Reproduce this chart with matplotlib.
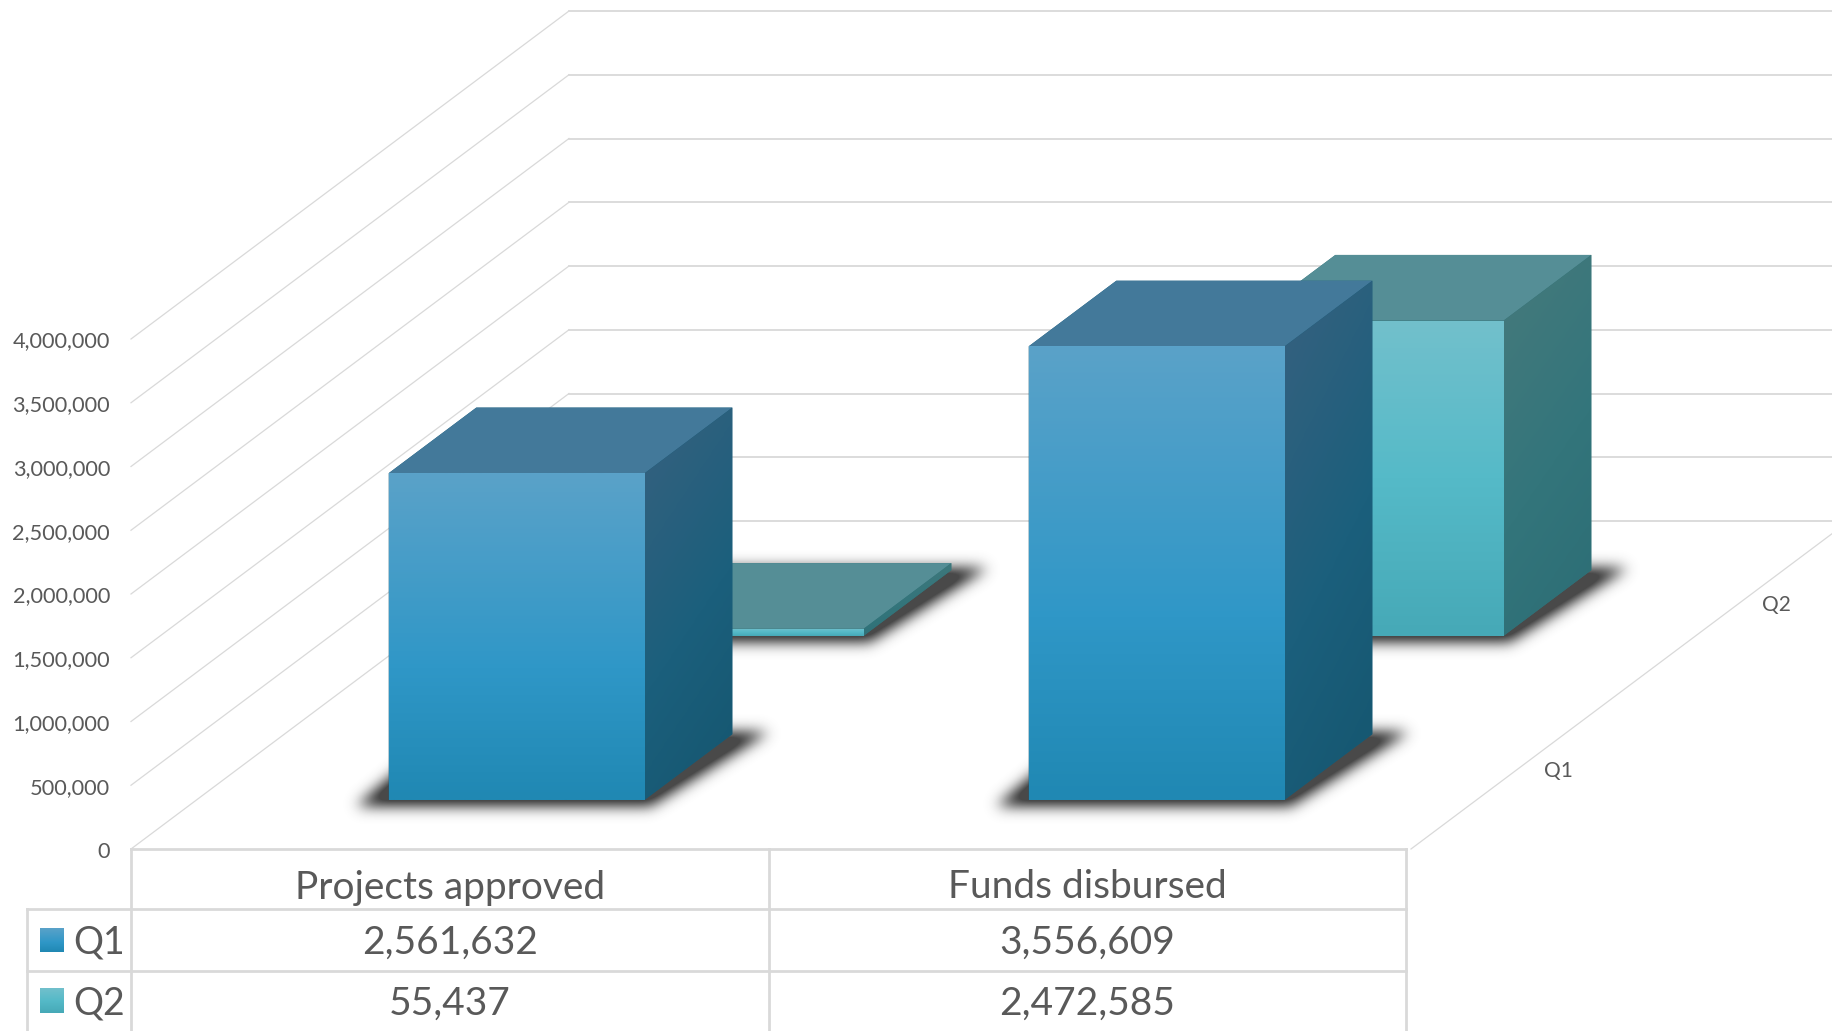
import numpy as np
import matplotlib
matplotlib.use("Agg")
import matplotlib.pyplot as plt
from matplotlib.colors import LinearSegmentedColormap
from matplotlib.path import Path
from matplotlib.patches import Polygon

plt.rcParams['font.family'] = ['Lato', 'DejaVu Sans']

categories = ["Projects approved", "Funds disbursed"]
series = ["Q1", "Q2"]
q1_values = [2561632, 3556609]
q2_values = [55437, 2472585]
value_ticks = [0, 500000, 1000000, 1500000, 2000000, 2500000, 3000000, 3500000, 4000000]

W, H = 1832, 1031
TEXT = "#595959"
GRID = "#d9d9d9"

# oblique projection: category units, depth units (0..1), value -> pixels
X0, Y0 = 131, 849
CAT_W = 640
DEPTH_DX, DEPTH_DY = 438, 328
PX_PER_VALUE = 510 / 4000000
BAR_W = 0.4
BAR_DEPTH = 0.2
BAR_START = 0.3


def project(cat, depth, value=0):
    return (X0 + cat * CAT_W + depth * DEPTH_DX,
            Y0 - depth * DEPTH_DY - value * PX_PER_VALUE)


ramps = {
    "Q1": dict(
        front=LinearSegmentedColormap.from_list("f1", [(0, "#5aa2c9"), (0.6, "#2f97c7"), (1, "#2088b3")]),
        side=LinearSegmentedColormap.from_list("s1", [(0, "#37617f"), (0.55, "#1b5f7c"), (1, "#15566f")]),
        top="#43799a"),
    "Q2": dict(
        front=LinearSegmentedColormap.from_list("f2", [(0, "#72c0cc"), (0.5, "#55bac8"), (1, "#46a9b7")]),
        side=LinearSegmentedColormap.from_list("s2", [(0, "#467a7c"), (0.55, "#33757b"), (1, "#2c6d75")]),
        top="#558e96"),
}

fig = plt.figure(figsize=(W / 100, H / 100), dpi=100)
ax = fig.add_axes([0, 0, 1, 1])
ax.axis("off")


def gradient_poly(pts, cmap, zorder, diagonal=0.0):
    pts = np.array(pts)
    xmin, ymin = pts.min(axis=0)
    xmax, ymax = pts.max(axis=0)
    yy, xx = np.mgrid[0:1:200j, 0:1:60j]
    t = (1 - diagonal) * yy + diagonal * xx
    im = ax.imshow(t, cmap=cmap, vmin=0, vmax=1, extent=(xmin, xmax, ymax, ymin),
                   aspect="auto", zorder=zorder, interpolation="bilinear")
    patch = Polygon(pts, closed=True, transform=ax.transData, fc="none", ec="none")
    ax.add_patch(patch)
    im.set_clip_path(patch)


def blur(a, sigma):
    r = int(3 * sigma)
    k = np.exp(-0.5 * (np.arange(-r, r + 1) / sigma) ** 2)
    k /= k.sum()
    a = np.apply_along_axis(lambda v: np.convolve(v, k, mode="same"), 0, a)
    return np.apply_along_axis(lambda v: np.convolve(v, k, mode="same"), 1, a)


# walls
for v in value_ticks:
    fx, fy = project(0, 0, v)
    bx, by = project(0, 1, v)
    ax.plot([fx, bx], [fy, by], color=GRID, lw=0.9, zorder=1)
    ax.plot([bx, W], [by, by], color=GRID, lw=1.3, zorder=1)
    ax.text(110, fy + 2.5, f"{v:,}", ha="right", va="center", fontsize=15.7, color=TEXT)
fx, fy = project(2, 0)
bx, by = project(2, 1)
ax.plot([fx, bx], [fy, by], color=GRID, lw=0.9, zorder=1)
ax.text(1558, 770.5, series[0], ha="center", va="center", fontsize=15, color=TEXT)
ax.text(1776, 605, series[1], ha="center", va="center", fontsize=15, color=TEXT)

# bars, back row first so the front row covers it
z = 5
rows = [("Q2", 0.65, q2_values), ("Q1", 0.15, q1_values)]
yy, xx = np.mgrid[0:H, 0:W]
grid_pts = np.column_stack([xx.ravel() + 0.5, yy.ravel() + 0.5])
shadow = np.zeros((H, W))
for name, d0, vals in rows:
    for i, val in enumerate(vals):
        c0 = i + BAR_START
        c1 = c0 + BAR_W
        d1 = d0 + BAR_DEPTH
        fl, fr = project(c0, d0), project(c1, d0)
        bl, br = project(c0, d1), project(c1, d1)
        shape = [(fl[0] - 32, fl[1] + 6), (fr[0] + 6, fr[1] + 6),
                 (br[0] + 36, br[1] - 2), (bl[0] - 32, bl[1] - 2)]
        shadow[Path(shape).contains_points(grid_pts).reshape(H, W)] = 1
shadow = blur(shadow, 7)
rgba = np.zeros((H, W, 4))
rgba[..., :3] = 0.25
rgba[..., 3] = np.clip(shadow * 1.3, 0, 1) * 0.95
ax.imshow(rgba, extent=(0, W, H, 0), aspect="auto", zorder=3, interpolation="bilinear")

for name, d0, vals in rows:
    style = ramps[name]
    for i, val in enumerate(vals):
        c0 = i + BAR_START
        c1 = c0 + BAR_W
        d1 = d0 + BAR_DEPTH
        top = [project(c0, d0, val), project(c1, d0, val), project(c1, d1, val), project(c0, d1, val)]
        side = [project(c1, d0, 0), project(c1, d1, 0), project(c1, d1, val), project(c1, d0, val)]
        front = [project(c0, d0, 0), project(c1, d0, 0), project(c1, d0, val), project(c0, d0, val)]
        # solid backing so no seam shows between the clipped faces
        outline = [front[0], front[1], side[1], side[2], top[3], front[3]]
        ax.add_patch(Polygon(outline, closed=True, fc=style["side"](0.6), ec="none", zorder=z))
        ax.add_patch(Polygon(top, closed=True, fc=style["top"], ec="none", zorder=z + 0.5))
        gradient_poly(side, style["side"], z + 1, diagonal=0.25)
        gradient_poly(front, style["front"], z + 2)
        z += 3

# data table
col_x = [27, 131, 769, 1406]
row_y = [849, 909, 971, H]
lw = 2
ax.plot([col_x[1], col_x[3]], [row_y[0], row_y[0]], color=GRID, lw=lw, zorder=40)
for y in row_y[1:3]:
    ax.plot([col_x[0], col_x[3]], [y, y], color=GRID, lw=lw, zorder=40)
ax.plot([col_x[0], col_x[0]], [row_y[1], H], color=GRID, lw=lw, zorder=40)
for x in col_x[1:]:
    ax.plot([x, x], [row_y[0], H], color=GRID, lw=lw, zorder=40)

header_y = 887.5
row_text_y = [942.5, 1003.5]
swatch_y = [(928, 952), (988, 1013)]
for i, cat in enumerate(categories):
    cx = (col_x[i + 1] + col_x[i + 2]) / 2
    ax.text(cx, header_y, cat, ha="center", va="center", fontsize=28, color=TEXT)
    ax.text(cx, row_text_y[0], f"{q1_values[i]:,}", ha="center", va="center", fontsize=28, color=TEXT)
    ax.text(cx, row_text_y[1], f"{q2_values[i]:,}", ha="center", va="center", fontsize=28, color=TEXT)
for name, ty, (s0, s1) in zip(series, row_text_y, swatch_y):
    ax.text(99, ty, name, ha="center", va="center", fontsize=27, color=TEXT)
    gradient_poly([(40, s0), (64, s0), (64, s1), (40, s1)], ramps[name]["front"], 41)

ax.set_xlim(0, W)
ax.set_ylim(H, 0)
fig.savefig("out.png", dpi=100, facecolor="white")
